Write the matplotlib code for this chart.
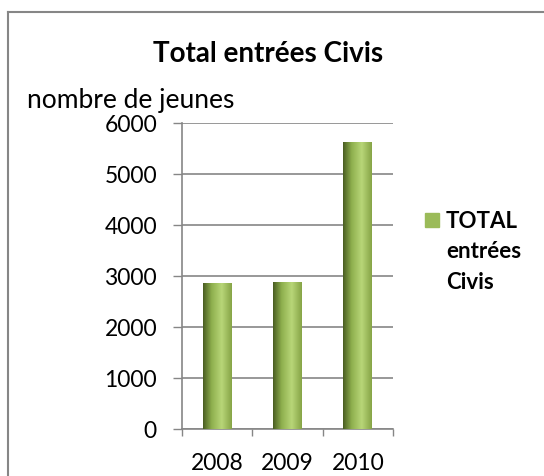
import matplotlib
matplotlib.use("Agg")
import matplotlib.pyplot as plt
import numpy as np
from matplotlib.lines import Line2D
from matplotlib.colors import LinearSegmentedColormap

categories = ["2008", "2009", "2010"]
values = [2860, 2880, 5630]
yticks = [0, 1000, 2000, 3000, 4000, 5000, 6000]
title = "Total entrées Civis"
ylabel = "nombre de jeunes"
legend_label = "TOTAL\nentrées\nCivis"

plt.rcParams['font.family'] = ['Lato', 'DejaVu Sans']

fig = plt.figure(figsize=(5.44, 4.76), dpi=100)
ax = fig.add_axes([182/544, 1-429/476, (393-182)/544, (429-123.3)/476])

grey = "#868686"
cmap = LinearSegmentedColormap.from_list("g", [(0, "#4a5e22"), (0.3, "#8fb04e"), (0.65, "#b8d678"), (1.0, "#87a547")])
grad = np.linspace(0, 1, 64).reshape(1, -1)
bw = 0.41
x = np.arange(len(categories))
for xi, v in zip(x, values):
    ax.imshow(grad, cmap=cmap, aspect='auto', extent=[xi - bw/2, xi + bw/2, 0, v], zorder=3)

ax.set_xlim(-0.5, len(categories) - 0.5)
ax.set_ylim(0, 6000)
ax.set_yticks(yticks)
ax.set_yticklabels([str(t) for t in yticks], fontsize=16.5)
for lab in ax.get_yticklabels():
    lab.set_va('center_baseline')
ax.set_xticks(x)
ax.set_xticklabels(categories, fontsize=16.5)
ax.set_xticks(np.arange(-0.5, len(categories), 1), minor=True)
ax.tick_params(axis='x', which='major', length=0, pad=17)
ax.tick_params(axis='x', which='minor', length=5, color=grey, width=1)
ax.tick_params(axis='y', length=6.5, color=grey, width=1, pad=11.5)
ax.yaxis.grid(True, color=grey, linewidth=1.2, zorder=0)
ax.set_axisbelow(True)
for s in ['top', 'right']:
    ax.spines[s].set_visible(False)
for s in ['left', 'bottom']:
    ax.spines[s].set_color(grey)
    ax.spines[s].set_linewidth(1.2)

fig.text(268/544, 1-62/476, title, ha='center', va='baseline', fontsize=20, fontweight='bold')
fig.text(27/544, 1-108/476, ylabel, ha='left', va='baseline', fontsize=19)

# legend
fig.patches.append(plt.Rectangle((425/544, 1-227/476), 14/544, 14/476, transform=fig.transFigure, color="#9bbb59", figure=fig))
fig.text(446/544, 1-211/476, legend_label, ha='left', va='top', fontsize=16, fontweight='bold', linespacing=1.55)

# chart border
fig.add_artist(Line2D([8/544, 8/544], [0, 1-12/476], transform=fig.transFigure, color=grey, linewidth=1.5))
fig.add_artist(Line2D([8/544, 1], [1-12/476, 1-12/476], transform=fig.transFigure, color=grey, linewidth=1.5))

fig.savefig("out.png", dpi=100)
